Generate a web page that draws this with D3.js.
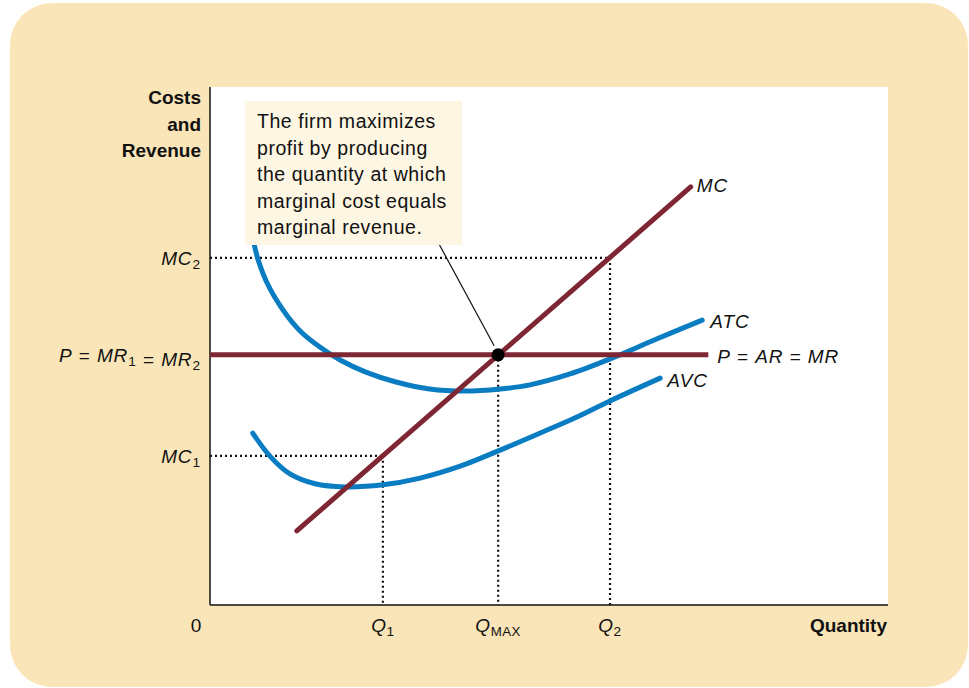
<!DOCTYPE html>
<html>
<head>
<meta charset="utf-8">
<script src="https://cdn.jsdelivr.net/npm/d3@7"></script>
<style>
  html, body { margin: 0; padding: 0; background: #ffffff; }
  svg { display: block; font-family: "Liberation Sans", Arial, sans-serif; }
</style>
</head>
<body>
<div id="vis"></div>
<script>
// values in chart units (quantity 0-100, cost 0-100)
const Q1 = 25.5, QMAX = 42.5, Q2 = 59.0;
const PRICE = 48.3, MC1 = 28.8, MC2 = 67.0;

const mcLine = [[12.8, 14.3], [70.9, 80.7]];
const priceLine = [[0, PRICE], [73.5, PRICE]];
const atcCurve = [
    [5.9, 73.9], [6.5, 69.7], [7.2, 66.2], [8.3, 62.5], [9.6, 59.3], [11.4, 55.8],
    [13.6, 52.5], [16.2, 49.8], [19.2, 47.3], [22.9, 45.0], [27.3, 43.1], [32.4, 41.7],
    [37.6, 41.3], [42.8, 41.7], [47.2, 42.5], [53.1, 44.6], [59.0, 47.5], [65.6, 51.2],
    [72.6, 55.0]
];
const avcCurve = [
    [6.3, 33.2], [8.8, 28.8], [11.8, 25.3], [15.5, 23.4], [19.9, 22.8], [25.5, 23.2],
    [31.0, 24.5], [36.9, 26.8], [42.8, 29.9], [48.7, 33.2], [53.8, 36.1], [59.0, 39.4],
    [66.4, 43.8]
];

const xTicks = [Q1, QMAX, Q2];
const xTickLabels = [[["Q", "i"], ["1", "sub"]], [["Q", "i"], ["MAX", "subcap"]], [["Q", "i"], ["2", "sub"]]];
const yTicks = [MC2, PRICE, MC1];
const yTickLabels = [
    [["MC", "i"], ["2", "sub"]],
    [["P", "i"], [" = ", "n"], ["MR", "i"], ["1", "sub"], [" = ", "n"], ["MR", "i"], ["2", "sub"]],
    [["MC", "i"], ["1", "sub"]]
];
const note = ["The firm maximizes", "profit by producing", "the quantity at which", "marginal cost equals", "marginal revenue."];

const beige = "#f9e5b8";
const blue = "#0a7dc2";
const maroon = "#7e2633";
const black = "#111111";

const width = 969, height = 688;
const plot = { left: 210, right: 888, top: 87, bottom: 605 };

const svg = d3.select("#vis")
    .append("svg")
    .attr("width", width)
    .attr("height", height)
    .attr("viewBox", `0 0 ${width} ${height}`);

svg.append("rect")
    .attr("x", 10).attr("y", 3)
    .attr("width", 958).attr("height", 684)
    .attr("rx", 42).attr("ry", 42)
    .style("fill", beige);

svg.append("rect")
    .attr("x", plot.left).attr("y", plot.top)
    .attr("width", plot.right - plot.left).attr("height", plot.bottom - plot.top)
    .style("fill", "#ffffff");

const x = d3.scaleLinear().domain([0, 100]).range([plot.left, plot.right]);
const y = d3.scaleLinear().domain([0, 100]).range([plot.bottom, plot.top]);

// writes a label made of italic / plain / subscript pieces
function addParts(sel, parts, size) {
    parts.forEach(([t, kind]) => {
        const ts = sel.append("tspan").text(t);
        if (kind === "i") ts.style("font-style", "italic");
        if (kind === "sub") ts.style("font-size", (size * 0.72) + "px").attr("dy", 4);
        if (kind === "subcap") ts.style("font-size", (size * 0.7) + "px").attr("dy", 4);
        if (kind === "sub" || kind === "subcap") {
            sel.append("tspan").attr("dy", -4).text("");
        }
    });
}

// dotted guides
const dotted = svg.append("g")
    .style("stroke", black)
    .style("stroke-width", 2.2)
    .style("stroke-dasharray", "2,3")
    .style("fill", "none");

[[Q1, MC1], [Q2, MC2]].forEach(([q, c]) => {
    dotted.append("line")
        .attr("x1", x(0)).attr("x2", x(q))
        .attr("y1", y(c)).attr("y2", y(c));
});
[[Q1, MC1], [QMAX, PRICE], [Q2, MC2]].forEach(([q, c]) => {
    dotted.append("line")
        .attr("x1", x(q)).attr("x2", x(q))
        .attr("y1", y(c)).attr("y2", y(0));
});

// axes
const axes = svg.append("g").style("stroke", black).style("stroke-width", 1.5);
axes.append("line").attr("x1", x(0)).attr("x2", x(0)).attr("y1", y(0)).attr("y2", plot.top);
axes.append("line").attr("x1", x(0)).attr("x2", plot.right).attr("y1", y(0)).attr("y2", y(0));

const line = d3.line().x(d => x(d[0])).y(d => y(d[1]));
const smooth = d3.line().x(d => x(d[0])).y(d => y(d[1])).curve(d3.curveCatmullRom.alpha(0.5));

svg.append("path").datum(avcCurve).attr("d", smooth)
    .style("fill", "none").style("stroke", blue).style("stroke-width", 5).style("stroke-linecap", "round");
svg.append("path").datum(atcCurve).attr("d", smooth)
    .style("fill", "none").style("stroke", blue).style("stroke-width", 5).style("stroke-linecap", "round");
svg.append("path").datum(priceLine).attr("d", line)
    .style("fill", "none").style("stroke", maroon).style("stroke-width", 5);
svg.append("path").datum(mcLine).attr("d", line)
    .style("fill", "none").style("stroke", maroon).style("stroke-width", 5).style("stroke-linecap", "round");

svg.append("circle")
    .attr("cx", x(QMAX)).attr("cy", y(PRICE)).attr("r", 6.5)
    .style("fill", "#000");

// annotation
svg.append("line")
    .attr("x1", 439).attr("y1", 244)
    .attr("x2", x(QMAX) - 4).attr("y2", y(PRICE) - 9)
    .style("stroke", black).style("stroke-width", 1.2);

svg.append("rect")
    .attr("x", 245).attr("y", 101)
    .attr("width", 217).attr("height", 144)
    .style("fill", "#fdf6e3");

svg.append("g").selectAll("text")
    .data(note)
    .join("text")
        .attr("x", 257)
        .attr("y", (_, i) => 128 + i * 26.5)
        .style("font-size", "19.5px")
        .style("letter-spacing", "0.55px")
        .style("fill", black)
        .text(d => d);

// y axis title
svg.append("g").selectAll("text")
    .data(["Costs", "and", "Revenue"])
    .join("text")
        .attr("x", 201)
        .attr("y", (_, i) => 104 + i * 26.5)
        .attr("text-anchor", "end")
        .style("font-size", "19px")
        .style("font-weight", 700)
        .style("fill", black)
        .text(d => d);

svg.append("text")
    .attr("x", 887).attr("y", 632)
    .attr("text-anchor", "end")
    .style("font-size", "19px")
    .style("font-weight", 700)
    .style("fill", black)
    .text("Quantity");

svg.append("text")
    .attr("x", 196).attr("y", 632)
    .attr("text-anchor", "middle")
    .style("font-size", "19px")
    .style("fill", black)
    .text("0");

// tick labels
xTicks.forEach((q, i) => {
    const t = svg.append("text")
        .attr("x", x(q)).attr("y", 632)
        .attr("text-anchor", "middle")
        .style("font-size", "19px")
        .style("letter-spacing", "0.5px")
        .style("fill", black);
    addParts(t, xTickLabels[i], 19);
});

yTicks.forEach((c, i) => {
    const t = svg.append("text")
        .attr("x", 201).attr("y", y(c) + 7)
        .attr("text-anchor", "end")
        .style("font-size", "19px")
        .style("letter-spacing", "0.9px")
        .style("fill", black);
    addParts(t, yTickLabels[i], 19);
});

// curve labels
const curveLabels = [
    { at: mcLine[mcLine.length - 1], dx: 6, dy: 5, parts: [["MC", "i"]] },
    { at: atcCurve[atcCurve.length - 1], dx: 8, dy: 8, parts: [["ATC", "i"]] },
    { at: priceLine[1], dx: 9, dy: 8, parts: [["P", "i"], [" = ", "n"], ["AR", "i"], [" = ", "n"], ["MR", "i"]] },
    { at: avcCurve[avcCurve.length - 1], dx: 7, dy: 9, parts: [["AVC", "i"]] }
];
curveLabels.forEach(l => {
    const t = svg.append("text")
        .attr("x", x(l.at[0]) + l.dx)
        .attr("y", y(l.at[1]) + l.dy)
        .style("font-size", "19px")
        .style("letter-spacing", "0.9px")
        .style("fill", black);
    addParts(t, l.parts, 19);
});
</script>
</body>
</html>
